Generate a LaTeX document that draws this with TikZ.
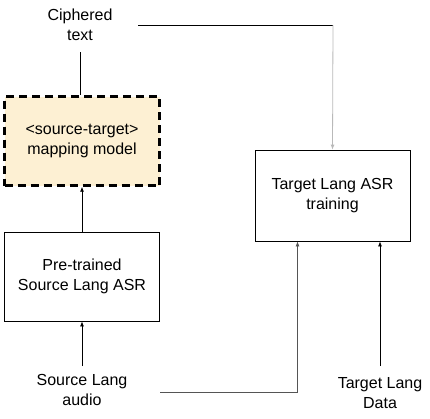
\documentclass[tikz,border=0pt]{standalone}
\usepackage{fontspec}
\setmainfont{Liberation Sans}
\usetikzlibrary{arrows.meta,positioning}
\definecolor{mapfill}{RGB}{253,240,211}
\definecolor{linegrey}{RGB}{185,185,185}
\definecolor{linedark}{RGB}{85,85,85}

\begin{document}
\begin{tikzpicture}[x=1pt, y=-1pt,
    box/.style={rectangle, draw=black, line width=0.8pt, fill=white,
        minimum width=155pt, minimum height=89pt, inner sep=2pt, align=center,
        font=\fontsize{16}{19.5}\selectfont},
    label/.style={align=center, inner sep=1pt, font=\fontsize{16}{19.5}\selectfont},
    arr/.style={-{Latex[length=5pt,width=4pt]}, line width=0.8pt}
]
    \useasboundingbox (0,0) rectangle (430,418);

    \node[box, fill=mapfill, line width=2.4pt, dash pattern=on 8pt off 5pt] (map) at (82,141) {<source-target>\\mapping model};
    \node[box] (asr) at (82,276.5) {Pre-trained\\Source Lang ASR};
    \node[box, minimum height=91pt] (tgt) at (332.5,195.5) {Target Lang ASR\\training};

    \node[label] (cipher) at (80,25) {Ciphered\\text};
    \node[label] (src) at (82,390) {Source Lang\\audio};
    \node[label] (data) at (380,393) {Target Lang\\Data};

    \coordinate (cipherdown) at (80,52);
    \coordinate (srcup) at (82,366);
    \coordinate (dataup) at (380,366);
    \coordinate (cipherright) at (138,25);
    \coordinate (cipherturn) at (333,25);
    \coordinate (srcright) at (160,392);

    \draw[line width=0.8pt] (cipherdown) -- (map.north -| cipherdown);
    \draw[arr] (asr.north) -- (map.south);
    \draw[arr] (srcup) -- (asr.south);
    \draw[arr] (dataup) -- (dataup |- tgt.south);

    % cross connections
    \draw[line width=0.8pt] (cipherright) -- (cipherturn);
    \draw[arr, linegrey] (cipherturn) -- (tgt.north);
    \draw[arr, linedark] (srcright) -| ([xshift=-35pt]tgt.south);
\end{tikzpicture}
\end{document}
